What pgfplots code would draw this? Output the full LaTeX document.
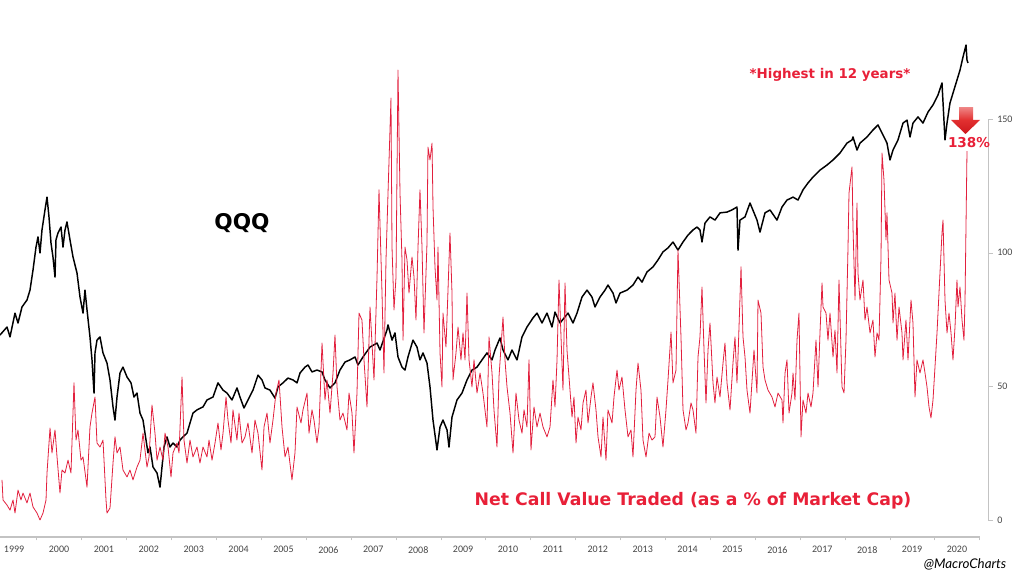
\documentclass[border=0pt]{standalone}
\usepackage{pgfplots}
\usepackage{pgfplotstable}
\pgfplotsset{compat=1.18}
\usepackage{fontspec}
\setmainfont{Carlito}
\newfontfamily\djv{DejaVu Sans}
\newfontfamily\lato{Lato}
\definecolor{qred}{RGB}{226,32,62}
\definecolor{tred}{RGB}{232,32,56}
\definecolor{tickgray}{RGB}{70,70,70}
\definecolor{axgray}{RGB}{195,195,195}
\definecolor{arrA}{RGB}{238,128,128}
\definecolor{arrB}{RGB}{226,48,48}
\definecolor{arrC}{RGB}{205,22,28}

\pgfplotstableread{
t v
1999.186 69.2
1999.342 72.2
1999.409 68.5
1999.520 77.4
1999.587 73.7
1999.676 79.7
1999.787 82.3
1999.854 86.0
1999.921 93.5
1999.988 102.1
2000.032 105.9
2000.077 99.9
2000.121 108.5
2000.188 116.0
2000.233 120.8
2000.277 113.4
2000.322 103.6
2000.366 98.4
2000.411 90.9
2000.433 104.8
2000.478 107.4
2000.545 109.6
2000.589 102.1
2000.634 108.5
2000.678 111.5
2000.745 104.8
2000.812 98.4
2000.901 92.4
2000.968 83.4
2001.035 77.4
2001.079 86.0
2001.124 78.6
2001.190 68.5
2001.235 59.9
2001.280 47.5
2001.302 62.5
2001.346 67.3
2001.413 68.5
2001.480 62.5
2001.569 58.7
2001.636 52.4
2001.703 42.3
2001.747 37.4
2001.792 46.0
2001.859 55.0
2001.925 57.2
2002.015 53.5
2002.104 51.3
2002.170 46.0
2002.237 47.5
2002.304 40.0
2002.371 37.4
2002.415 32.5
2002.482 25.1
2002.527 27.3
2002.594 19.8
2002.683 17.6
2002.750 12.3
2002.794 19.8
2002.839 27.3
2002.905 31.1
2002.972 27.3
2003.039 28.8
2003.128 27.3
2003.195 29.9
2003.262 31.1
2003.351 32.5
2003.418 36.3
2003.484 40.0
2003.574 41.2
2003.707 42.3
2003.796 44.9
2003.930 46.0
2004.041 51.3
2004.153 48.6
2004.242 47.5
2004.353 44.9
2004.464 49.4
2004.531 46.0
2004.620 41.9
2004.709 44.9
2004.821 48.6
2004.932 54.2
2005.021 52.4
2005.088 49.4
2005.199 48.6
2005.311 45.6
2005.378 49.8
2005.489 51.3
2005.600 53.1
2005.712 52.4
2005.801 51.3
2005.868 55.0
2005.979 57.2
2006.046 58.0
2006.135 55.4
2006.246 56.1
2006.358 55.4
2006.424 52.4
2006.536 49.4
2006.647 51.3
2006.758 56.1
2006.870 59.1
2006.981 59.9
2007.093 61.0
2007.159 58.0
2007.271 61.0
2007.427 64.7
2007.583 66.2
2007.649 63.6
2007.805 71.1
2007.828 73.0
2007.917 67.3
2007.983 70.0
2008.050 61.0
2008.139 57.2
2008.206 56.1
2008.273 61.0
2008.384 67.3
2008.473 64.7
2008.540 59.9
2008.607 62.5
2008.696 58.7
2008.763 49.8
2008.830 37.4
2008.919 26.2
2008.986 34.8
2009.052 37.4
2009.142 33.7
2009.186 27.3
2009.253 38.5
2009.364 44.9
2009.476 47.5
2009.587 52.4
2009.698 56.1
2009.810 57.2
2009.921 59.9
2010.032 62.5
2010.144 59.9
2010.211 63.6
2010.322 68.1
2010.389 63.6
2010.500 59.9
2010.589 63.6
2010.701 59.9
2010.812 68.5
2010.923 72.2
2011.057 75.6
2011.146 77.4
2011.257 73.7
2011.369 77.4
2011.480 72.2
2011.547 77.8
2011.658 73.7
2011.837 77.4
2011.948 73.7
2012.037 77.4
2012.148 83.4
2012.260 86.0
2012.371 83.4
2012.438 79.7
2012.549 83.4
2012.661 86.0
2012.727 87.9
2012.839 84.9
2012.906 81.2
2012.995 84.9
2013.151 86.0
2013.284 87.9
2013.396 90.9
2013.485 89.0
2013.596 92.8
2013.730 94.7
2013.841 97.3
2013.952 100.3
2014.064 101.8
2014.175 104.0
2014.286 101.0
2014.398 104.0
2014.509 106.6
2014.620 108.5
2014.710 109.6
2014.776 108.5
2014.821 104.0
2014.888 111.1
2014.999 113.4
2015.110 112.2
2015.222 114.9
2015.378 115.2
2015.489 116.0
2015.600 117.1
2015.623 101.0
2015.667 112.2
2015.779 113.4
2015.890 118.6
2016.046 112.2
2016.113 107.7
2016.224 114.9
2016.335 116.0
2016.491 112.2
2016.603 117.1
2016.714 119.7
2016.848 120.8
2016.959 119.7
2017.070 123.5
2017.182 126.1
2017.293 128.3
2017.449 130.9
2017.605 132.8
2017.739 134.7
2017.894 137.3
2018.050 141.0
2018.162 142.2
2018.184 143.3
2018.273 138.4
2018.340 141.0
2018.496 143.3
2018.629 145.9
2018.741 147.8
2018.830 144.8
2018.941 141.0
2019.008 134.7
2019.075 138.4
2019.186 142.2
2019.298 148.5
2019.387 149.6
2019.454 143.3
2019.520 148.5
2019.632 150.8
2019.743 148.5
2019.854 152.6
2019.966 155.3
2020.077 159.0
2020.166 163.5
2020.233 142.2
2020.278 148.5
2020.344 156.0
2020.411 159.7
2020.500 164.6
2020.567 168.3
2020.634 173.2
2020.701 177.7
2020.723 172.1
2020.745 171.0
}\qqq

\pgfplotstableread{
t v
1999.231 15.0
1999.253 7.5
1999.342 5.6
1999.409 3.7
1999.476 7.5
1999.520 2.6
1999.587 11.2
1999.654 7.5
1999.698 10.1
1999.787 6.4
1999.854 10.1
1999.921 4.9
2000.010 2.6
2000.077 0.0
2000.144 2.6
2000.211 7.5
2000.233 17.6
2000.300 34.4
2000.344 25.1
2000.411 33.7
2000.456 23.6
2000.522 10.1
2000.567 18.7
2000.634 17.6
2000.701 22.4
2000.767 17.6
2000.834 51.3
2000.879 29.9
2000.923 33.7
2000.990 22.4
2001.035 23.6
2001.124 12.3
2001.190 34.8
2001.235 40.0
2001.302 46.0
2001.346 28.8
2001.413 27.3
2001.480 29.9
2001.547 7.5
2001.569 2.6
2001.636 4.5
2001.703 21.3
2001.747 31.1
2001.792 25.1
2001.859 27.3
2001.925 18.7
2002.015 16.1
2002.081 18.7
2002.148 15.0
2002.237 19.8
2002.304 22.4
2002.371 32.5
2002.460 19.8
2002.505 23.6
2002.571 43.0
2002.638 32.5
2002.683 22.4
2002.750 27.3
2002.816 22.4
2002.861 32.5
2002.928 27.3
2002.995 16.1
2003.039 25.1
2003.128 28.8
2003.173 25.1
2003.240 53.5
2003.284 29.9
2003.351 21.3
2003.418 29.9
2003.484 23.6
2003.574 27.3
2003.640 21.3
2003.707 27.3
2003.796 23.6
2003.841 29.9
2003.908 22.4
2003.975 28.8
2004.041 36.3
2004.108 26.2
2004.153 32.5
2004.220 46.0
2004.264 37.4
2004.331 28.8
2004.375 41.2
2004.464 29.9
2004.509 40.0
2004.576 28.8
2004.643 31.1
2004.709 36.3
2004.799 25.1
2004.865 37.4
2004.932 32.5
2005.021 18.7
2005.066 34.8
2005.133 40.0
2005.199 28.8
2005.266 37.4
2005.333 47.5
2005.400 52.4
2005.467 34.8
2005.534 23.6
2005.600 27.3
2005.689 15.0
2005.756 25.1
2005.801 42.3
2005.890 36.3
2005.934 41.2
2006.024 47.5
2006.068 32.5
2006.135 41.2
2006.179 37.4
2006.246 28.8
2006.291 34.8
2006.358 66.2
2006.424 44.9
2006.469 52.4
2006.536 40.0
2006.603 55.0
2006.647 69.2
2006.692 49.8
2006.758 37.4
2006.825 40.0
2006.914 33.7
2006.959 47.5
2007.026 40.0
2007.070 25.1
2007.137 47.5
2007.182 77.4
2007.248 74.8
2007.293 59.9
2007.360 42.3
2007.427 79.7
2007.471 66.2
2007.516 52.4
2007.583 90.9
2007.627 123.5
2007.694 84.9
2007.738 55.0
2007.783 97.3
2007.828 122.3
2007.894 157.9
2007.917 102.1
2007.961 78.6
2008.006 90.9
2008.050 168.3
2008.095 122.3
2008.139 97.3
2008.162 67.3
2008.206 102.1
2008.251 97.3
2008.295 84.9
2008.362 98.4
2008.407 90.9
2008.451 74.8
2008.496 102.1
2008.540 123.5
2008.585 102.1
2008.629 70.0
2008.696 103.6
2008.718 139.5
2008.763 134.7
2008.808 141.0
2008.830 117.1
2008.874 94.7
2008.919 82.3
2008.941 102.1
2008.986 62.5
2009.030 49.8
2009.052 77.4
2009.119 64.7
2009.164 86.0
2009.208 107.4
2009.253 84.9
2009.275 52.4
2009.342 62.5
2009.387 72.2
2009.453 59.9
2009.498 70.0
2009.543 59.9
2009.587 84.9
2009.632 59.9
2009.698 49.8
2009.743 59.9
2009.810 47.5
2009.877 55.0
2009.943 47.5
2010.032 34.8
2010.077 68.5
2010.144 55.0
2010.188 41.2
2010.255 27.3
2010.300 53.5
2010.389 75.9
2010.433 59.9
2010.478 49.8
2010.545 40.0
2010.612 25.1
2010.678 47.5
2010.745 37.4
2010.812 32.5
2010.857 41.2
2010.923 34.8
2010.968 59.9
2011.012 26.2
2011.079 42.3
2011.146 34.8
2011.213 40.0
2011.280 34.8
2011.369 31.1
2011.436 34.8
2011.502 52.4
2011.547 42.3
2011.592 59.9
2011.636 89.8
2011.681 68.5
2011.725 48.6
2011.770 88.7
2011.814 63.6
2011.881 48.6
2011.926 38.5
2011.970 46.0
2012.015 28.8
2012.059 38.5
2012.126 33.7
2012.171 43.8
2012.237 48.6
2012.282 36.3
2012.349 46.0
2012.393 51.3
2012.460 41.2
2012.505 31.1
2012.572 23.6
2012.616 38.5
2012.683 22.4
2012.727 41.2
2012.817 36.3
2012.861 46.0
2012.928 56.1
2012.972 48.6
2013.039 53.5
2013.106 41.2
2013.173 31.1
2013.240 33.7
2013.284 23.6
2013.351 48.6
2013.396 58.7
2013.462 48.6
2013.507 29.9
2013.574 23.6
2013.641 32.5
2013.707 29.9
2013.774 31.1
2013.819 46.0
2013.886 38.5
2013.952 27.3
2014.019 41.2
2014.064 52.4
2014.131 70.3
2014.175 51.3
2014.242 56.1
2014.286 101.0
2014.353 68.5
2014.398 41.2
2014.465 33.7
2014.509 36.3
2014.576 43.8
2014.620 41.2
2014.687 32.5
2014.732 61.0
2014.776 68.5
2014.821 87.2
2014.866 63.6
2014.910 43.8
2014.955 63.6
2014.999 73.7
2015.066 51.3
2015.110 43.8
2015.155 53.5
2015.222 46.0
2015.289 58.7
2015.333 66.2
2015.378 51.3
2015.445 41.2
2015.511 58.7
2015.556 68.5
2015.600 51.3
2015.623 61.0
2015.690 94.7
2015.734 68.5
2015.779 61.0
2015.823 48.6
2015.890 40.0
2015.979 63.6
2016.046 47.5
2016.068 82.3
2016.135 77.4
2016.180 57.2
2016.224 52.4
2016.291 48.6
2016.380 46.0
2016.447 42.3
2016.514 47.5
2016.603 44.9
2016.625 36.3
2016.670 55.0
2016.714 59.9
2016.759 40.0
2016.825 47.5
2016.848 55.0
2016.892 44.9
2016.937 67.3
2016.981 77.4
2017.026 31.1
2017.070 44.9
2017.137 40.0
2017.182 47.5
2017.249 42.3
2017.293 47.5
2017.360 67.3
2017.405 49.8
2017.449 70.0
2017.494 88.7
2017.516 79.7
2017.583 77.4
2017.627 67.3
2017.672 77.4
2017.739 61.0
2017.783 71.1
2017.828 55.0
2017.872 89.8
2017.939 49.8
2017.984 47.5
2018.028 67.3
2018.073 102.1
2018.095 122.3
2018.162 132.1
2018.184 109.6
2018.229 82.3
2018.273 118.6
2018.295 92.4
2018.340 82.3
2018.407 89.8
2018.451 74.8
2018.496 79.7
2018.563 70.0
2018.629 74.8
2018.674 61.0
2018.719 70.0
2018.763 67.3
2018.808 98.4
2018.830 137.3
2018.874 127.2
2018.919 104.8
2018.941 114.9
2018.986 89.8
2019.053 84.9
2019.075 73.7
2019.119 84.9
2019.164 67.3
2019.209 79.7
2019.275 70.0
2019.298 59.9
2019.364 74.8
2019.409 59.9
2019.476 82.3
2019.520 73.7
2019.565 46.0
2019.609 59.9
2019.676 55.0
2019.743 59.9
2019.788 55.0
2019.832 49.8
2019.877 42.3
2019.921 38.2
2019.966 44.9
2020.010 57.2
2020.055 70.0
2020.099 84.9
2020.166 107.4
2020.189 112.2
2020.233 82.3
2020.278 70.0
2020.322 77.4
2020.367 70.0
2020.411 59.9
2020.456 72.2
2020.500 89.8
2020.523 79.7
2020.567 87.2
2020.612 74.8
2020.656 67.3
2020.679 82.3
2020.723 138.0
}\callvalue

\begin{document}
\begin{tikzpicture}
\path[use as bounding box] (0,-29.25pt) rectangle (768pt,402.75pt);
\begin{axis}[
  at={(0,0)}, anchor=south west,
  scale only axis, width=741pt, height=402.75pt,
  xmin=1999.186, xmax=2021.191, ymin=-6.36, ymax=194.54,
  clip=false,
  axis line style={draw=none},
  xtick pos=left, ytick pos=right,
  xticklabel pos=left, yticklabel pos=right,
  tick align=outside,
  xtick={1999.5,2000.5,2001.5,2002.5,2003.5,2004.5,2005.5,2006.5,2007.5,2008.5,2009.5,2010.5,2011.5,2012.5,2013.5,2014.5,2015.5,2016.5,2017.5,2018.5,2019.5,2020.5},
  xticklabels={1999,2000,2001,2002,2003,2004,2005,2006,2007,2008,2009,2010,2011,2012,2013,2014,2015,2016,2017,2018,2019,2020},
  major x tick style={draw=none},
  minor xtick={2000,2001,...,2021},
  minor x tick style={draw=axgray},
  minor tick length=2.5pt,
  ytick={0,50,100,150},
  major y tick style={draw=axgray},
  major tick length=3.75pt,
  /pgf/number format/assume math mode=true,
  tick label style={font=\fontsize{7.5}{8.5}\selectfont, text=tickgray},
  xticklabel style={anchor=north, inner sep=0pt, yshift=-3pt},
  yticklabel style={anchor=west, inner sep=0pt, xshift=3pt},
]
\addplot[black, line width=1.1pt, line join=round] table[x=t, y=v] {\qqq};
\addplot[qred, line width=0.6pt, line join=round] table[x=t, y=v] {\callvalue};
\draw[axgray, line width=0.8pt] (axis cs:1999.186,-6.36) -- (axis cs:2021.012,-6.36);
\draw[axgray, line width=0.6pt] (axis cs:2021.191,0) -- (axis cs:2021.191,150);
\end{axis}
% annotations (picture coordinates, 1px = 0.75pt, origin at axis lower left)
\node[anchor=base, inner sep=0pt, font=\djv\bfseries\fontsize{16.2}{18}\selectfont] at (181.5pt,230.3pt) {QQQ};
\node[anchor=base, inner sep=0pt, text=tred, font=\djv\bfseries\fontsize{10.05}{12}\selectfont] at (622.5pt,343.6pt) {*Highest in 12 years*};
\node[anchor=base, inner sep=0pt, text=tred, font=\djv\bfseries\fontsize{10.2}{12}\selectfont] at (726.75pt,292.5pt) {138\%};
\node[anchor=base, inner sep=0pt, text=tred, font=\djv\bfseries\fontsize{12.96}{15}\selectfont] at (519.75pt,24pt) {Net Call Value Traded (as a \% of Market Cap)};
\node[anchor=base, inner sep=0pt, font=\lato\itshape\fontsize{10}{12}\selectfont] at (723.75pt,-23.25pt) {@MacroCharts};
\shade[top color=arrA, bottom color=arrB] (719.25pt,321.75pt) rectangle (729.75pt,312.75pt);
\shade[top color=arrB, bottom color=arrC] (713.25pt,312.75pt) -- (735pt,312.75pt) -- (724.1pt,302.25pt) -- cycle;
\end{tikzpicture}
\end{document}
